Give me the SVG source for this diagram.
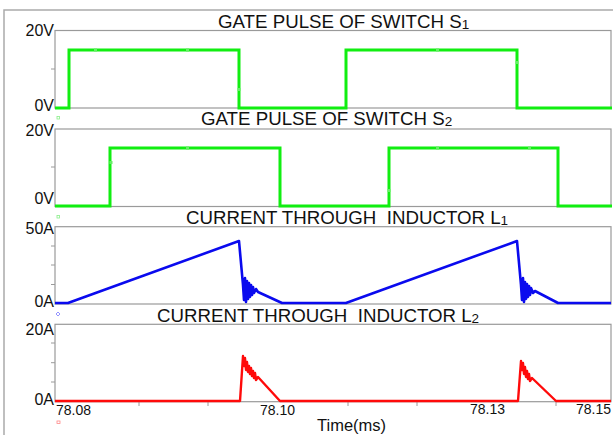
<svg xmlns="http://www.w3.org/2000/svg" width="613" height="435" viewBox="0 0 613 435">
<style>
text{font-family:"Liberation Sans",Arial,sans-serif;fill:#111;}
.title{font-size:18.7px;white-space:pre;}
.sub{font-size:13.5px;}
.ax{font-size:16px;text-anchor:end;}
.tx{font-size:14px;}
.box{fill:none;stroke:#9a9a9a;stroke-width:1.2;}
.tick{stroke:#9a9a9a;stroke-width:1;}
.g{fill:none;stroke:#11ee11;stroke-width:3;stroke-linejoin:miter;}
.b{fill:none;stroke:#0a0aee;stroke-width:2.6;stroke-linejoin:round;}
.r{fill:none;stroke:#ff0a0a;stroke-width:2.4;stroke-linejoin:round;}
.gm{fill:#66ee66;}
</style>
<rect width="613" height="435" fill="#fff"/>
<path d="M4,435 V10 H613" fill="none" stroke="#aaa" stroke-width="1.5"/>

<g id="plot1">
<rect class="box" x="55" y="30.5" width="556" height="77.5"/>
<line class="tick" x1="51" y1="69" x2="55" y2="69"/>
<text class="ax" x="54" y="35.5">20V</text>
<text class="ax" x="54" y="111">0V</text>
<text class="title" x="218" y="28">GATE PULSE OF SWITCH S<tspan class="sub" dy="1">1</tspan></text>
<path class="g" d="M55,108 H69 V50 H239 V108 H346 V50 H517 V108 H612"/>
<rect class="gm" x="94" y="48.5" width="3" height="3"/><rect class="gm" x="186" y="48.5" width="3" height="3"/><rect class="gm" x="237.5" y="88" width="3" height="3"/><rect class="gm" x="436" y="48.5" width="3" height="3"/><rect class="gm" x="515.5" y="61" width="3" height="3"/>
<rect x="57" y="116.5" width="2.5" height="2.5" fill="none" stroke="#8e8" stroke-width="0.8"/>
</g>

<g id="plot2">
<rect class="box" x="55" y="129" width="556" height="77.5"/>
<line class="tick" x1="51" y1="167" x2="55" y2="167"/>
<text class="ax" x="54" y="136">20V</text>
<text class="ax" x="54" y="204">0V</text>
<text class="title" x="201" y="125">GATE PULSE OF SWITCH S<tspan class="sub" dy="1">2</tspan></text>
<path class="g" d="M55,206 H110 V148 H280 V206 H389 V148 H558 V206 H612"/>
<rect class="gm" x="109.5" y="161" width="3" height="3"/><rect class="gm" x="186" y="146.5" width="3" height="3"/><rect class="gm" x="436" y="146.5" width="3" height="3"/><rect class="gm" x="528" y="146.5" width="3" height="3"/><rect class="gm" x="387.5" y="189" width="3" height="3"/>
<rect x="57" y="215.5" width="2.5" height="2.5" fill="none" stroke="#8e8" stroke-width="0.8"/>
</g>

<g id="plot3">
<rect class="box" x="55" y="226.7" width="556" height="77.3"/>
<line class="tick" x1="51" y1="246" x2="55" y2="246"/>
<line class="tick" x1="51" y1="265" x2="55" y2="265"/>
<line class="tick" x1="51" y1="284.5" x2="55" y2="284.5"/>
<text class="ax" x="54" y="234">50A</text>
<text class="ax" x="54" y="307">0A</text>
<text class="title" x="186" y="224">CURRENT THROUGH  INDUCTOR L<tspan class="sub" dy="1">1</tspan></text>
<path class="b" d="M55,303 L68,303 L239,241 L243,285 L244,300 L245,278 L246,302 L247,281 L248,299 L249,283 L250,297 L251,285 L252,295 L253,287 L254,293 L256,289 L258,292 L282,303 L346,303 L517,241 L521,285 L522,300 L523,278 L524,302 L525,282 L526,299 L527,284 L528,297 L529,286 L530,295 L531,288 L533,293 L535,291 L558,303 L611,303"/>
<path d="M58,312 L60,314 L58,316 L56,314 Z" fill="none" stroke="#77f" stroke-width="0.8"/>
</g>

<g id="plot4">
<rect class="box" x="55" y="324.3" width="556" height="77.4"/>
<line class="tick" x1="51" y1="343" x2="55" y2="343"/>
<line class="tick" x1="51" y1="362.7" x2="55" y2="362.7"/>
<line class="tick" x1="51" y1="382" x2="55" y2="382"/>
<line class="tick" x1="139" y1="402" x2="139" y2="406"/>
<line class="tick" x1="208" y1="402" x2="208" y2="406"/>
<line class="tick" x1="348" y1="402" x2="348" y2="406"/>
<line class="tick" x1="417" y1="402" x2="417" y2="406"/>
<line class="tick" x1="556" y1="402" x2="556" y2="406"/>
<text class="ax" x="54" y="335">20A</text>
<text class="ax" x="54" y="405">0A</text>
<text class="title" x="157" y="322">CURRENT THROUGH  INDUCTOR L<tspan class="sub" dy="1">2</tspan></text>
<path class="r" d="M55,401 L240,401 L243,356 L244,366 L245,358 L246,370 L247,362 L248,372 L249,366 L250,374 L251,368 L252,376 L253,371 L254,378 L255,373 L256,380 L258,377 L280,401 L518,401 L521,361 L522,370 L523,363 L524,374 L525,367 L526,377 L527,371 L528,379 L529,374 L530,381 L532,378 L556,401 L611,401"/>
<rect x="57" y="421" width="3" height="2.5" fill="none" stroke="#f88" stroke-width="0.8"/>
<text class="tx" x="56" y="415">78.08</text>
<text class="tx" x="260" y="415">78.10</text>
<text class="tx" x="470" y="414">78.13</text>
<text class="tx" x="576" y="414">78.15</text>
<text x="317" y="431" font-size="16.5">Time(ms)</text>
</g>
</svg>
